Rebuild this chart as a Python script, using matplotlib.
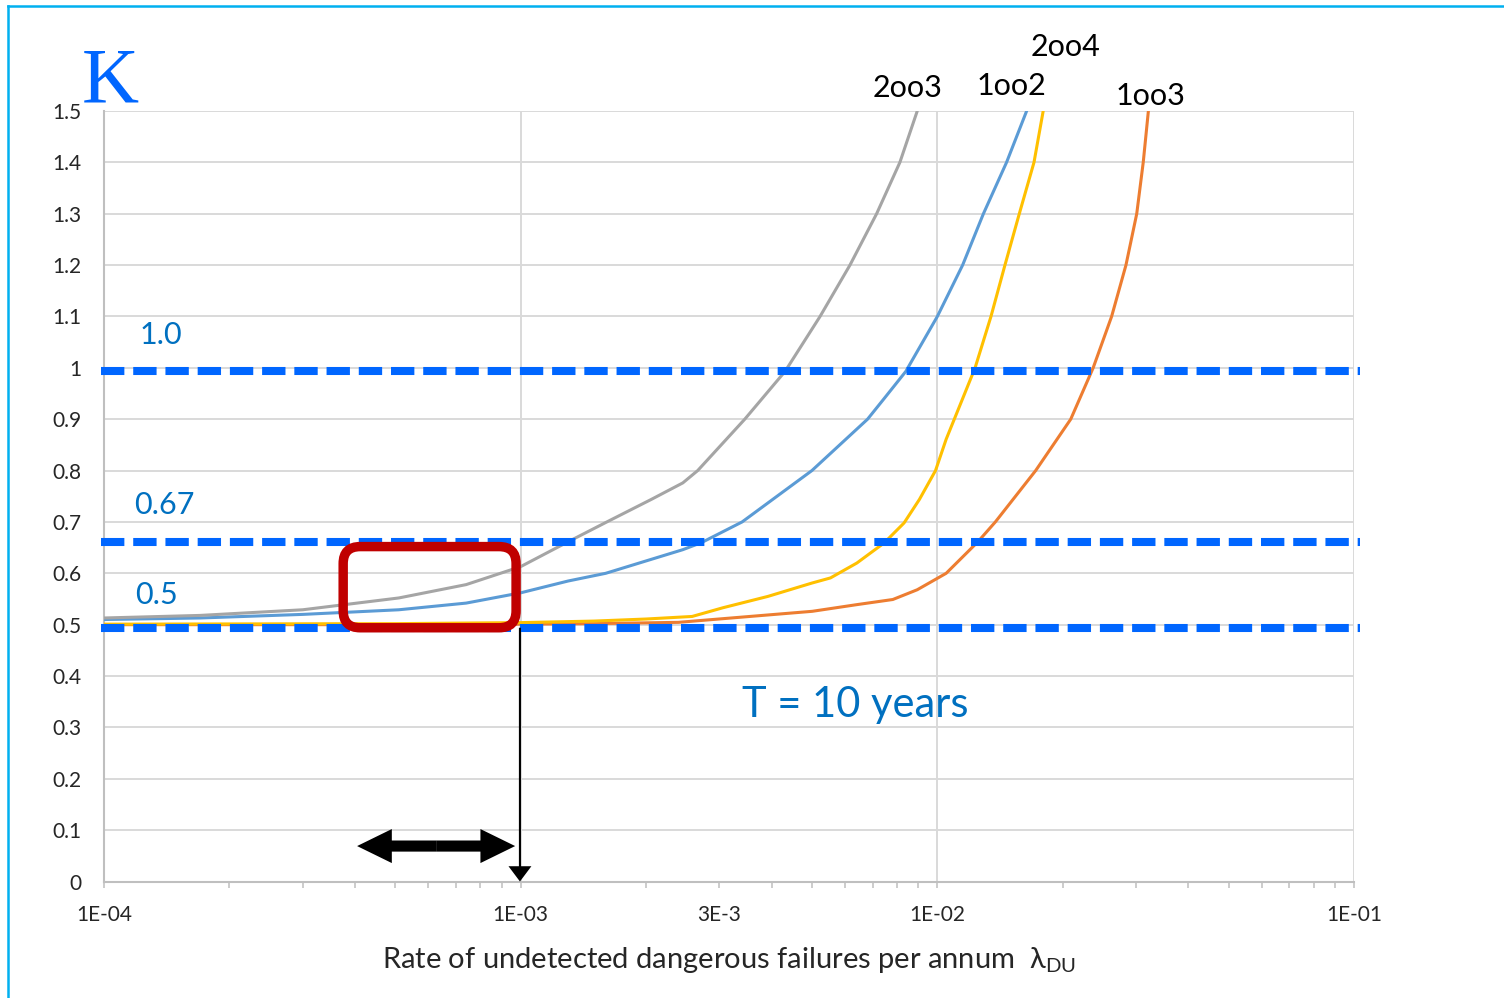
import matplotlib.pyplot as plt
import numpy as np
from matplotlib.lines import Line2D
from matplotlib.patches import FancyBboxPatch
from matplotlib.ticker import FixedLocator, FuncFormatter
from matplotlib.transforms import IdentityTransform

# ==================================================================================================================== #
# values (lambda_DU per annum -> K)

lam_1oo2 = [1e-4, 1.7e-4, 3e-4, 5.1e-4, 7.4e-4, 1e-3, 1.3e-3, 1.6e-3, 2.45e-3, 2.72e-3, 3.4e-3, 5.0e-3, 6.8e-3,
            7.45e-3, 8.4e-3, 1.0e-2, 1.15e-2, 1.29e-2, 1.466e-2, 1.638e-2]
k_1oo2 = [0.51, 0.513, 0.52, 0.529, 0.542, 0.562, 0.585, 0.60, 0.646, 0.66, 0.70, 0.80, 0.90,
          0.94, 0.993, 1.1, 1.2, 1.3, 1.4, 1.5]

lam_1oo3 = [1e-4, 5e-4, 1e-3, 1.5e-3, 2.39e-3, 3.55e-3, 5.01e-3, 6.41e-3, 7.82e-3, 8.95e-3, 9.89e-3, 1.05e-2,
            1.25e-2, 1.378e-2, 1.722e-2, 2.09e-2, 2.366e-2, 2.62e-2, 2.836e-2, 3.01e-2, 3.12e-2, 3.21e-2]
k_1oo3 = [0.500, 0.500, 0.501, 0.502, 0.5045, 0.516, 0.526, 0.539, 0.549, 0.568, 0.588, 0.60,
          0.661, 0.70, 0.80, 0.90, 1.0, 1.1, 1.2, 1.3, 1.4, 1.5]

lam_2oo3 = [1e-4, 1.7e-4, 3e-4, 5.1e-4, 7.4e-4, 1e-3, 1.29e-3, 1.61e-3, 2.06e-3, 2.45e-3, 2.66e-3, 3.45e-3,
            4.31e-3, 5.23e-3, 6.17e-3, 7.15e-3, 8.13e-3, 8.95e-3]
k_2oo3 = [0.513, 0.518, 0.529, 0.552, 0.578, 0.613, 0.66, 0.70, 0.744, 0.776, 0.80, 0.90,
          0.993, 1.1, 1.2, 1.3, 1.4, 1.5]

lam_2oo4 = [1e-4, 5e-4, 1e-3, 1.5e-3, 2e-3, 2.58e-3, 3.06e-3, 3.92e-3, 5.0e-3, 5.54e-3, 6.41e-3, 7.45e-3,
            8.32e-3, 9.06e-3, 9.9e-3, 1.05e-2, 1.15e-2, 1.232e-2, 1.345e-2, 1.453e-2, 1.573e-2, 1.706e-2,
            1.795e-2]
k_2oo4 = [0.501, 0.502, 0.504, 0.507, 0.511, 0.516, 0.533, 0.555, 0.581, 0.591, 0.62, 0.659,
          0.698, 0.744, 0.80, 0.861, 0.94, 1.0, 1.1, 1.2, 1.3, 1.4, 1.5]

series_names = ["1oo2", "1oo3", "2oo3", "2oo4"]
series_colors = ["#5B9BD5", "#ED7D31", "#A5A5A5", "#FFC000"]

curve_labels = ["2oo3", "1oo2", "2oo4", "1oo3"]
curve_label_x = [8.5e-3, 1.51e-2, 2.035e-2, 3.255e-2]
curve_label_y = [1.527, 1.531, 1.607, 1.511]

ref_levels = [0.993, 0.66, 0.494]
ref_labels = ["1.0", "0.67", "0.5"]
ref_label_x = [1.22e-4, 1.18e-4, 1.19e-4]
ref_label_y = [1.046, 0.716, 0.541]

major_ticks = [1e-4, 1e-3, 1e-2, 1e-1]
major_tick_labels = ["1E-04", "1E-03", "1E-02", "1E-01"]
extra_tick = 3e-3
extra_tick_label = "3E-3"

# annotation anchors (data units)
focus_box_lam = [3.75e-4, 9.75e-4]
focus_box_k = [0.494, 0.652]
drop_arrow_lam = 9.96e-4
drop_arrow_k = [0.494, 0.0]
span_arrow_lam = [4.05e-4, 9.7e-4]
span_arrow_k = 0.069

BLUE_TEXT = "#0070C0"
BLUE_DASH = "#0066FF"


# ==================================================================================================================== #

def setup_fonts():
    plt.rcParams['font.family'] = ['Lato', 'DejaVu Sans']
    plt.rcParams['mathtext.fontset'] = 'custom'
    plt.rcParams['mathtext.rm'] = 'Lato'
    plt.rcParams['mathtext.it'] = 'Lato:italic'


def style_axes(ax):
    ax.set_xscale('log')
    ax.set_xlim(1e-4, 1e-1)
    ax.set_ylim(0, 1.5)

    ax.xaxis.set_major_locator(FixedLocator(major_ticks))
    ax.xaxis.set_major_formatter(FuncFormatter(lambda v, _: major_tick_labels[major_ticks.index(v)]
                                               if v in major_ticks else ""))
    minors = [m * 10.0 ** e for e in range(-4, -1) for m in range(2, 10)]
    ax.xaxis.set_minor_locator(FixedLocator(minors))
    ax.xaxis.set_minor_formatter(FuncFormatter(lambda v, _: extra_tick_label
                                               if abs(v - extra_tick) < 1e-9 else ""))

    yticks = np.round(np.arange(0, 1.51, 0.1), 1)
    ax.set_yticks(yticks)
    ax.set_yticklabels([f"{v:g}" for v in yticks])

    ax.grid(which='major', color='#D9D9D9', lw=1.4, zorder=0)
    ax.set_axisbelow(True)
    for side in ("top", "right"):
        ax.spines[side].set_visible(False)
    for side in ("left", "bottom"):
        ax.spines[side].set_color('#BFBFBF')
        ax.spines[side].set_linewidth(1.5)

    ax.tick_params(axis='x', which='both', direction='out', length=4.5, width=1.1, color='#BFBFBF',
                   labelsize=15, labelcolor='#262626', pad=12.5)
    ax.tick_params(axis='y', which='both', length=0, labelsize=15, labelcolor='#262626', pad=16)

    ax.set_xlabel("Rate of undetected dangerous failures per annum  λ$_{\\mathrm{DU}}$",
                  fontsize=21, color='#262626', labelpad=14)


def draw_curves(ax):
    xs = [lam_1oo2, lam_1oo3, lam_2oo3, lam_2oo4]
    ys = [k_1oo2, k_1oo3, k_2oo3, k_2oo4]
    for lam, k, name, color in zip(xs, ys, series_names, series_colors):
        ax.plot(lam, k, color=color, lw=2.2, label=name, zorder=3,
                solid_capstyle='round', solid_joinstyle='round')

    for text, x, y in zip(curve_labels, curve_label_x, curve_label_y):
        ax.text(x, y, text, ha='center', va='baseline', fontsize=22, color='black', clip_on=False)


def draw_reference_lines(ax):
    ax.hlines(ref_levels, 0.982e-4, 0.1033, colors=BLUE_DASH, lw=5.8, linestyles=(0, (2.9, 1.1)),
              clip_on=False, zorder=5)
    for text, x, y in zip(ref_labels, ref_label_x, ref_label_y):
        ax.text(x, y, text, ha='left', va='baseline', fontsize=22, color=BLUE_TEXT, zorder=6)

    ax.text(3.4e-3, 0.321, "T = 10 years", ha='left', va='baseline', fontsize=30, color=BLUE_TEXT)
    ax.text(0.885e-4, 1.519, "K", ha='left', va='baseline', fontsize=57, color=BLUE_DASH,
            family='Liberation Serif', clip_on=False)


def draw_annotations(fig, ax):
    (x0, y0), (x1, y1) = ax.transData.transform([(focus_box_lam[0], focus_box_k[0]),
                                                  (focus_box_lam[1], focus_box_k[1])])
    box = FancyBboxPatch((x0, y0), x1 - x0, y1 - y0, boxstyle="round,pad=0,rounding_size=17",
                         transform=IdentityTransform(), fill=False, ec='#C00000', lw=6.8, zorder=8,
                         clip_on=False)
    ax.add_artist(box)

    ax.annotate("", xy=(drop_arrow_lam, drop_arrow_k[1]), xytext=(drop_arrow_lam, drop_arrow_k[0]),
                arrowprops=dict(arrowstyle="simple,head_length=1.1,head_width=1.65,tail_width=0.15",
                                mutation_scale=10, fc='black', ec='none', shrinkA=0, shrinkB=0),
                annotation_clip=False, zorder=9)

    mid = np.sqrt(span_arrow_lam[0] * span_arrow_lam[1])
    for end in span_arrow_lam:
        ax.annotate("", xy=(end, span_arrow_k), xytext=(mid, span_arrow_k),
                    arrowprops=dict(arrowstyle="simple,head_length=2.5,head_width=2.45,tail_width=0.8",
                                    mutation_scale=10, fc='black', ec='none', shrinkA=0, shrinkB=0),
                    annotation_clip=False, zorder=9)

    frame_color = '#00B0F0'
    fig.add_artist(Line2D([8 / 1504, 8 / 1504], [0, 1 - 6 / 998], transform=fig.transFigure,
                          color=frame_color, lw=1.8))
    fig.add_artist(Line2D([8 / 1504, 1], [1 - 6 / 998, 1 - 6 / 998], transform=fig.transFigure,
                          color=frame_color, lw=1.8))


def main():
    setup_fonts()
    fig = plt.figure(figsize=(15.04, 9.98), dpi=100)
    ax = fig.add_axes([104 / 1504, 116.5 / 998, 1250 / 1504, 770.5 / 998])

    style_axes(ax)
    draw_curves(ax)
    draw_reference_lines(ax)
    draw_annotations(fig, ax)

    fig.savefig("out.png", dpi=100, facecolor='white')


# ==================================================================================================================== #

if __name__ == '__main__':
    main()
